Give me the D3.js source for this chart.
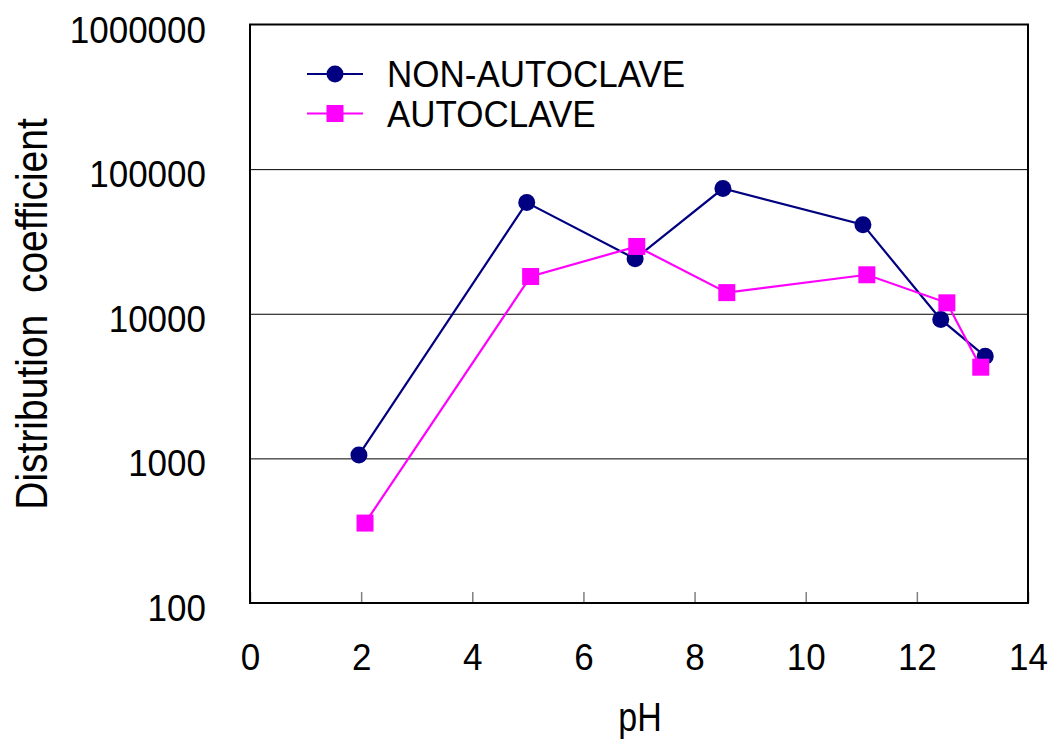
<!DOCTYPE html>
<html>
<head>
<meta charset="utf-8">
<script src="https://cdn.jsdelivr.net/npm/d3@7"></script>
<style>
  body { margin: 0; background: #fff; }
  svg text { font-family: "Liberation Sans", Arial, sans-serif; fill: #000; }
</style>
</head>
<body>
<svg id="chart" width="1050" height="742"></svg>
<script>
// pH vs distribution coefficient
const phNonAutoclave = [1.96, 4.98, 6.93, 8.51, 11.03, 12.43, 13.23];
const kdNonAutoclave = [1057, 58700, 24000, 73400, 41300, 9130, 5080];

const phAutoclave = [2.07, 5.05, 6.96, 8.58, 11.10, 12.54, 13.15];
const kdAutoclave = [357, 18100, 29200, 14000, 18600, 11900, 4270];

const xTicks = [0, 2, 4, 6, 8, 10, 12, 14];
const yTicks = [100, 1000, 10000, 100000, 1000000];
const seriesNames = ["NON-AUTOCLAVE", "AUTOCLAVE"];

const svg = d3.select("#chart");
const plotLeft = 250, plotRight = 1028, plotTop = 24.5, plotBottom = 603;

const x = d3.scaleLinear().domain([0, 14]).range([plotLeft, plotRight]);
const y = d3.scaleLog().domain([100, 1000000]).range([plotBottom, plotTop]);

// gridlines at the inner decades
svg.append("g")
    .attr("transform", `translate(${plotLeft},0)`)
    .call(d3.axisLeft(y).tickValues(yTicks.slice(1, -1)).tickSize(-(plotRight - plotLeft)).tickFormat(""))
    .call(g => g.select(".domain").remove())
    .call(g => g.selectAll("line").attr("stroke", "#000").attr("stroke-width", 1));

// x axis, ticks pointing into the plot
const xAxis = svg.append("g")
    .attr("transform", `translate(0,${plotBottom})`)
    .call(d3.axisBottom(x).tickValues(xTicks).tickSizeInner(-11).tickSizeOuter(0));
xAxis.select(".domain").remove();
xAxis.selectAll("line").attr("stroke", "#808080").attr("stroke-width", 1.5);
// the original font is a little taller than Arial, stretch it slightly
xAxis.selectAll("text")
    .attr("y", 0).attr("dy", 0)
    .attr("transform", "translate(0,67) scale(1,1.07)")
    .style("font-size", "35px");

// y axis labels
const yAxis = svg.append("g")
    .attr("transform", `translate(${plotLeft},0)`)
    .call(d3.axisLeft(y).tickValues(yTicks).tickSize(0).tickFormat(d3.format("d")));
yAxis.select(".domain").remove();
yAxis.selectAll("text")
    .attr("x", 0).attr("dy", 0)
    .attr("transform", "translate(-44,17.5) scale(1,1.07)")
    .style("font-size", "35px");

// plot frame
svg.append("rect")
    .attr("x", plotLeft).attr("y", plotTop)
    .attr("width", plotRight - plotLeft).attr("height", plotBottom - plotTop)
    .attr("fill", "none").attr("stroke", "#000").attr("stroke-width", 2);

const series = [
  { name: seriesNames[0], ph: phNonAutoclave, kd: kdNonAutoclave, color: "#000080", shape: "circle" },
  { name: seriesNames[1], ph: phAutoclave, kd: kdAutoclave, color: "#FF00FF", shape: "square" }
];

const line = d3.line().x(d => x(d[0])).y(d => y(d[1]));

function drawMarker(g, cx, cy, s) {
  if (s.shape === "circle") {
    g.append("circle").attr("cx", cx).attr("cy", cy).attr("r", 8.5).attr("fill", s.color);
  } else {
    g.append("rect").attr("x", cx - 8.5).attr("y", cy - 8.5).attr("width", 17).attr("height", 17).attr("fill", s.color);
  }
}

series.forEach(s => {
  const pts = s.ph.map((p, i) => [p, s.kd[i]]);
  svg.append("path").datum(pts)
      .attr("d", line)
      .attr("fill", "none")
      .attr("stroke", s.color)
      .attr("stroke-width", 2.2);
  const g = svg.append("g");
  pts.forEach(p => drawMarker(g, x(p[0]), y(p[1]), s));
});

// legend
series.forEach((s, i) => {
  const ly = 74 + i * 39.5;
  svg.append("line").attr("x1", 307).attr("x2", 363).attr("y1", ly).attr("y2", ly)
      .attr("stroke", s.color).attr("stroke-width", 2.2);
  drawMarker(svg, 335, ly, s);
  svg.append("text").attr("transform", `translate(387,${ly + 13}) scale(1,1.03)`)
      .style("font-size", "35px").text(s.name);
});

// axis titles
svg.append("text")
    .attr("transform", `translate(${(plotLeft + plotRight) / 2 + 1},731) scale(1,1.2)`)
    .attr("text-anchor", "middle")
    .style("font-size", "34px")
    .text("pH");

svg.append("text")
    .attr("transform", `translate(47,314) rotate(-90) scale(1,1.15)`)
    .attr("text-anchor", "middle")
    .style("font-size", "39px")
    .style("white-space", "pre")
    .text("Distribution  coefficient");
</script>
</body>
</html>
